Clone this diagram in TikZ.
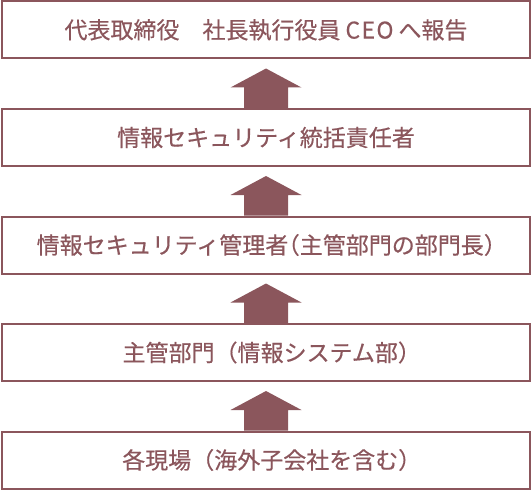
\documentclass[tikz,border=0pt]{standalone}
\usepackage{fontspec}
\newfontfamily\jpfont[FakeBold=0.4]{Noto Sans CJK JP}
\newfontfamily\jphalf[FakeBold=0.4,RawFeature=+halt]{Noto Sans CJK JP}
\newcommand{\lpar}{{\jphalf （}}
\newcommand{\rpar}{{\jphalf ）}}
\usetikzlibrary{positioning,calc}
\definecolor{repred}{RGB}{139,86,92}

\begin{document}
\begin{tikzpicture}[x=1pt,y=-1pt,
	level/.style={draw=repred, line width=2pt, fill=white, minimum width=528pt, minimum height=57pt, inner sep=0pt, text=repred, font=\jpfont\fontsize{23}{26}\selectfont},
	uparrow/.style={fill=repred},
	node distance=48.5pt]
				\useasboundingbox (0,0) rectangle (532,492);
				\node[level] (ceo) at (266,30) {代表取締役　社長執行役員\hspace{5pt}{\addfontfeature{LetterSpace=6}CEO}\hspace{5pt}へ報告};
				\node[level, below=of ceo] (head) {情報セキュリティ統括責任者};
				\node[level, below=of head] (mgr) {情報セキュリティ管理者\lpar 主管部門の部門長\rpar};
				\node[level, below=of mgr] (dept) {主管部門（情報システム部\rpar};
				\node[level, below=of dept] (site) {各現場（海外子会社を含む\rpar};
				% block arrows upward
				\foreach \lo/\up in {site/dept, dept/mgr, mgr/head, head/ceo} {
					\fill[uparrow] ($(\lo.north)+(-22,0)$) |- ($(\up.south)+(-35.5,28)$) -- ($(\up.south)+(0,9)$) -- ($(\up.south)+(35.5,28)$) -| ($(\lo.north)+(22,0)$) -- cycle;
				}
\end{tikzpicture}
\end{document}
